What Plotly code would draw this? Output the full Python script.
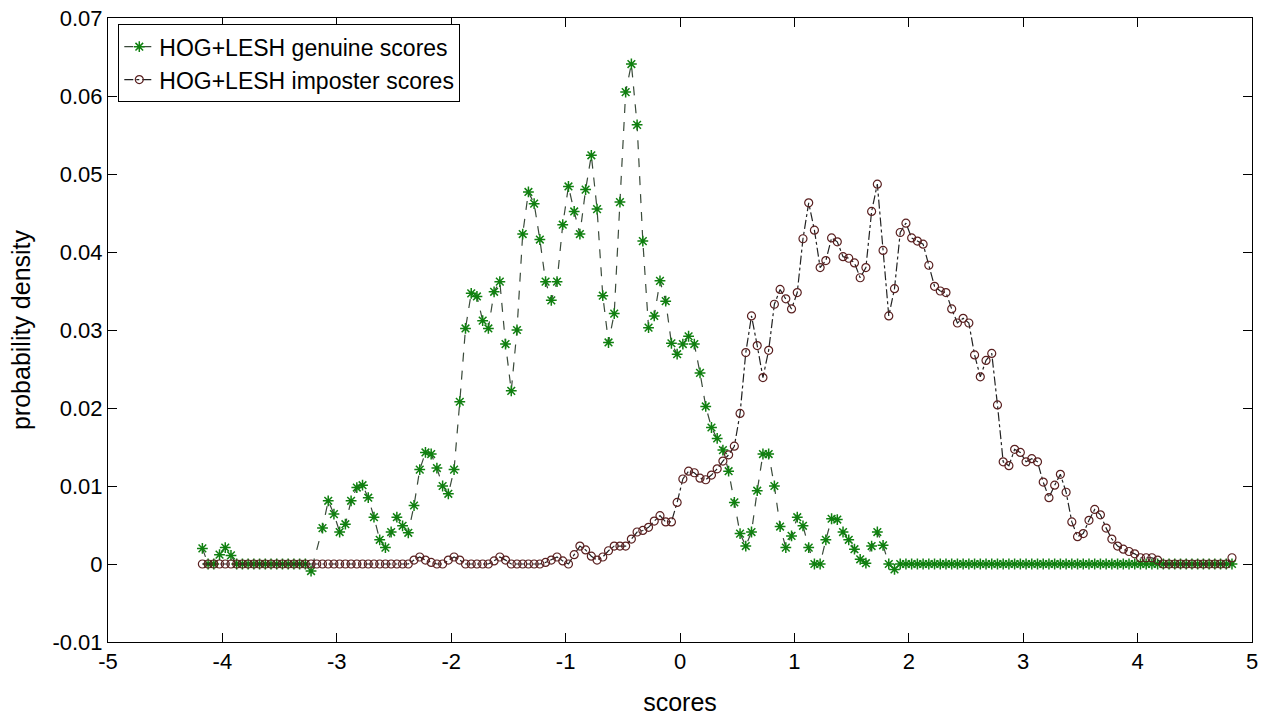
import plotly.graph_objects as go

# bin centres of the score histogram (step 0.05)
scores = [round(-4.175 + 0.05 * k, 3) for k in range(181)]

genuine = [
    0.0020, 0.0000, 0.0000, 0.0012, 0.0021, 0.0011, 0.0000, 0.0000, 0.0000, 0.0000,
    0.0000, 0.0000, 0.0000, 0.0000, 0.0000, 0.0000, 0.0000, 0.0000, 0.0000, -0.0009,
    None, 0.0046, 0.0081, 0.0064, 0.0041, 0.0051, 0.0081, 0.0098, 0.0101, 0.0085,
    0.0060, 0.0031, 0.0021, 0.0041, 0.0060, 0.0049, 0.0040, 0.0075, 0.0121, 0.0143,
    0.0141, 0.0123, 0.0100, 0.0090, 0.0121, 0.0208, 0.0302, 0.0347, 0.0343, 0.0312,
    0.0302, 0.0349, 0.0362, 0.0282, 0.0222, 0.0300, 0.0423, 0.0477, 0.0462, 0.0416,
    0.0362, 0.0338, 0.0362, 0.0435, 0.0484, 0.0452, 0.0423, 0.0480, 0.0524, 0.0455,
    0.0344, 0.0284, 0.0321, 0.0464, 0.0605, 0.0641, 0.0563, 0.0414, 0.0303, 0.0318,
    0.0363, 0.0337, 0.0283, 0.0269, 0.0282, 0.0292, 0.0282, 0.0245, 0.0202, 0.0175,
    0.0161, 0.0146, 0.0119, 0.0079, 0.0039, 0.0023, 0.0041, 0.0094, 0.0141, 0.0141,
    0.0100, 0.0048, 0.0021, 0.0036, 0.0060, 0.0049, 0.0021, 0.0000, 0.0000, 0.0031,
    0.0058, 0.0057, 0.0041, 0.0031, 0.0019, 0.0006, 0.0001, 0.0023, 0.0041, 0.0024,
    0.0000, -0.0007, 0.0000, 0.0000, 0.0000, 0.0000, 0.0000, 0.0000, 0.0000, 0.0000,
    0.0000, 0.0000, 0.0000, 0.0000, 0.0000, 0.0000, 0.0000, 0.0000, 0.0000, 0.0000,
    0.0000, 0.0000, 0.0000, 0.0000, 0.0000, 0.0000, 0.0000, 0.0000, 0.0000, 0.0000,
    0.0000, 0.0000, 0.0000, 0.0000, 0.0000, 0.0000, 0.0000, 0.0000, 0.0000, 0.0000,
    0.0000, 0.0000, 0.0000, 0.0000, 0.0000, 0.0000, 0.0000, 0.0000, 0.0000, 0.0000,
    0.0000, 0.0000, 0.0000, 0.0000, 0.0000, 0.0000, 0.0000, 0.0000, 0.0000, 0.0000,
    0.0000,
]

imposter = [
    0.0000, 0.0000, 0.0000, 0.0000, 0.0000, 0.0000, 0.0000, 0.0000, 0.0000, 0.0000,
    0.0000, 0.0000, 0.0000, 0.0000, 0.0000, 0.0000, 0.0000, 0.0000, 0.0000, 0.0000,
    0.0000, 0.0000, 0.0000, 0.0000, 0.0000, 0.0000, 0.0000, 0.0000, 0.0000, 0.0000,
    0.0000, 0.0000, 0.0000, 0.0000, 0.0000, 0.0000, 0.0000, 0.0005, 0.0009, 0.0005,
    0.0002, 0.0000, 0.0000, 0.0005, 0.0009, 0.0005, 0.0000, 0.0000, 0.0000, 0.0000,
    0.0000, 0.0004, 0.0009, 0.0005, 0.0000, 0.0000, 0.0000, 0.0000, 0.0000, 0.0000,
    0.0002, 0.0005, 0.0009, 0.0004, 0.0000, 0.0012, 0.0023, 0.0018, 0.0010, 0.0005,
    0.0009, 0.0017, 0.0023, 0.0023, 0.0023, 0.0032, 0.0041, 0.0043, 0.0047, 0.0055,
    0.0062, 0.0054, 0.0054, 0.0079, 0.0109, 0.0119, 0.0117, 0.0110, 0.0108, 0.0114,
    0.0122, 0.0132, 0.0140, 0.0151, 0.0193, 0.0271, 0.0318, 0.0280, 0.0239, 0.0274,
    0.0333, 0.0352, 0.0340, 0.0327, 0.0348, 0.0417, 0.0463, 0.0428, 0.0380, 0.0389,
    0.0418, 0.0413, 0.0394, 0.0392, 0.0386, 0.0367, 0.0380, 0.0452, 0.0487, 0.0402,
    0.0318, 0.0353, 0.0425, 0.0437, 0.0418, 0.0414, 0.0410, 0.0383, 0.0356, 0.0350,
    0.0348, 0.0327, 0.0309, 0.0315, 0.0309, 0.0268, 0.0240, 0.0261, 0.0270, 0.0204,
    0.0131, 0.0126, 0.0147, 0.0143, 0.0131, 0.0135, 0.0131, 0.0105, 0.0085, 0.0101,
    0.0115, 0.0092, 0.0054, 0.0035, 0.0039, 0.0056, 0.0070, 0.0063, 0.0046, 0.0032,
    0.0023, 0.0019, 0.0016, 0.0013, 0.0008, 0.0008, 0.0008, 0.0005, 0.0000, 0.0000,
    0.0000, 0.0000, 0.0000, 0.0000, 0.0000, 0.0000, 0.0000, 0.0000, 0.0000, 0.0000,
    0.0008,
]

x_ticks = [-5, -4, -3, -2, -1, 0, 1, 2, 3, 4, 5]
x_tick_labels = ["-5", "-4", "-3", "-2", "-1", "0", "1", "2", "3", "4", "5"]
y_ticks = [-0.01, 0.0, 0.01, 0.02, 0.03, 0.04, 0.05, 0.06, 0.07]
y_tick_labels = ["-0.01", "0", "0.01", "0.02", "0.03", "0.04", "0.05", "0.06", "0.07"]

FONT = "Liberation Sans, Arial, sans-serif"

fig = go.Figure()
fig.add_trace(go.Scatter(
    x=scores, y=genuine, mode="lines+markers", name="HOG+LESH genuine scores",
    connectgaps=True,
    line=dict(color="#3a4a3a", width=1.2, dash="dash"),
    marker=dict(symbol="asterisk-open", size=9, color="#108010",
                line=dict(color="#108010", width=1.5)),
))
fig.add_trace(go.Scatter(
    x=scores, y=imposter, mode="lines+markers", name="HOG+LESH imposter scores",
    line=dict(color="#222222", width=1.2, dash="dashdot"),
    marker=dict(symbol="circle-open", size=8, color="#5a2020",
                line=dict(color="#5a2020", width=1.2)),
))

axis_common = dict(
    showline=True, linecolor="black", linewidth=1, mirror="allticks",
    ticks="inside", ticklen=9, tickcolor="black", tickwidth=1,
    showgrid=False, zeroline=False, automargin=False,
    tickfont=dict(family=FONT, size=22, color="black"),
)

fig.update_xaxes(range=[-5, 5], tickvals=x_ticks, ticktext=x_tick_labels,
                 title=dict(text="scores", font=dict(family=FONT, size=25, color="black"), standoff=20),
                 **axis_common)
fig.update_yaxes(range=[-0.01, 0.07], tickvals=y_ticks, ticktext=y_tick_labels,
                 title=dict(text="probability density", font=dict(family=FONT, size=25, color="black"), standoff=14),
                 **axis_common)

fig.update_layout(
    width=1276, height=721,
    margin=dict(l=108, r=24, t=18, b=79),
    paper_bgcolor="white", plot_bgcolor="white",
    showlegend=True,
    legend=dict(x=0.009, y=0.99, xanchor="left", yanchor="top",
                bgcolor="white", bordercolor="black", borderwidth=1,
                font=dict(family=FONT, size=23, color="black"),
                itemwidth=30, tracegroupgap=0),
)

fig.write_html("out.html")
